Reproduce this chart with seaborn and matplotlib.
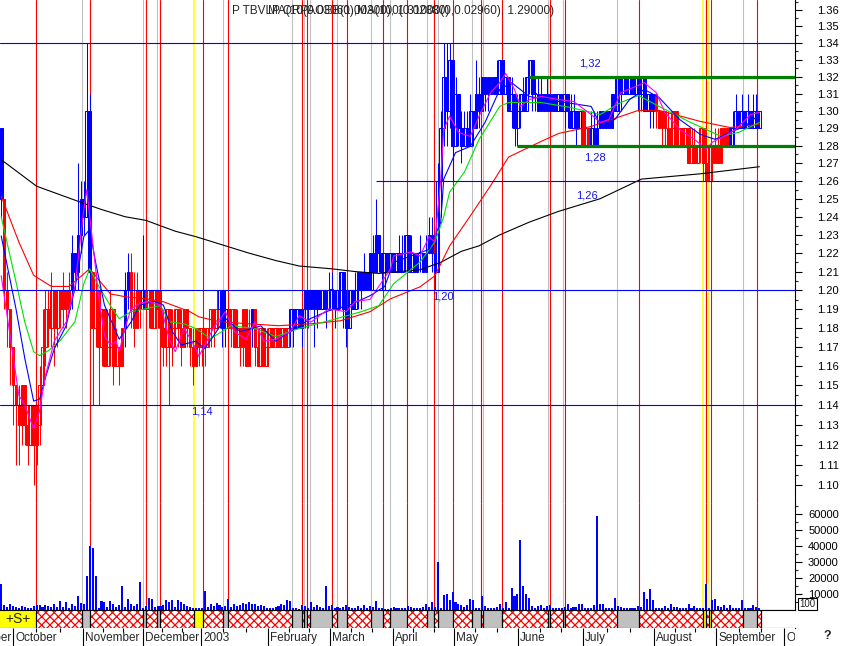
import numpy as np
import matplotlib
matplotlib.use('Agg')
import matplotlib.pyplot as plt
import seaborn as sns
from matplotlib.patches import Rectangle
from matplotlib.ticker import FixedLocator, FixedFormatter, NullFormatter

sns.set_theme(style='white')
plt.rcParams['font.family'] = ['Liberation Sans', 'DejaVu Sans']
plt.rcParams['hatch.linewidth'] = 0.9
plt.rcParams['hatch.color'] = 'red'

# --- daily bars, in cents, trading day 2 .. 259 (day 6 = 1 Oct 2002) ---
first_day = 2
close = [125, 120, 119, 117, 115, 114, 113, 115, 113, 112,
         114, 112, 113, 115, 117, 119, 118, 120, 118, 120,
         119, 120, 119, 120, 122, 121, 123, 125, 124, 130,
         121, 118, 120, 117, 119, 116, 117, 119, 116, 117,
         116, 118, 120, 121, 119, 118, 120, 119, 120, 119,
         120, 118, 120, 119, 118, 117, 119, 117, 118, 119,
         118, 117, 119, 118, 117, 116, 118, 117, 118, 117,
         118, 119, 118, 119, 120, 118, 119, 118, 119, 117,
         118, 117, 119, 116, 118, 119, 117, 116, 118, 116,
         117, 118, 117, 118, 117, 118, 117, 118, 119, 118,
         119, 118, 119, 120, 119, 120, 119, 120, 119, 120,
         119, 120, 120, 119, 120, 121, 119, 118, 120, 119,
         120, 121, 120, 121, 120, 122, 121, 123, 122, 121,
         122, 121, 122, 121, 122, 121, 122, 123, 121, 122,
         121, 122, 122, 121, 122, 123, 122, 121, 126, 129,
         132, 130, 133, 128, 131, 129, 128, 129, 128, 130,
         129, 131, 130, 132, 131, 132, 131, 132, 131, 133,
         131, 132, 130, 131, 129, 130, 131, 130, 132, 133,
         131, 131, 130, 131, 130, 131, 130, 131, 130, 131,
         130, 131, 130, 129, 130, 129, 130, 128, 129, 128,
         129, 128, 129, 130, 129, 130, 129, 131, 130, 132,
         131, 132, 131, 132, 131, 132, 131, 132, 130, 131,
         130, 131, 130, 129, 130, 129, 128, 129, 130, 128,
         129, 128, 129, 127, 128, 127, 128, 129, 127, 126,
         128, 127, 128, 127, 129, 128, 129, 128, 129, 130,
         129, 130, 129, 130, 129, 130, 129, 130]
high = [129, 125, 121, 119, 117, 115, 115, 115, 115, 114,
        114, 113, 114, 116, 119, 120, 120, 121, 120, 120,
        120, 121, 120, 121, 123, 122, 127, 126, 126, 134,
        131, 121, 121, 120, 119, 119, 119, 120, 119, 118,
        117, 118, 121, 122, 122, 121, 121, 120, 123, 120,
        120, 120, 120, 120, 120, 119, 119, 119, 119, 119,
        119, 119, 119, 119, 118, 118, 118, 118, 118, 118,
        118, 119, 119, 120, 120, 120, 120, 119, 119, 119,
        119, 118, 119, 119, 119, 119, 119, 118, 118, 118,
        118, 118, 118, 118, 118, 118, 118, 118, 119, 119,
        119, 119, 119, 120, 120, 120, 120, 120, 120, 120,
        120, 121, 121, 120, 120, 121, 121, 120, 120, 120,
        121, 121, 121, 122, 121, 122, 123, 125, 123, 122,
        122, 122, 122, 122, 122, 123, 123, 123, 123, 123,
        122, 122, 123, 122, 123, 124, 124, 123, 127, 130,
        134, 134, 134, 133, 132, 131, 130, 130, 130, 131,
        130, 133, 132, 132, 132, 132, 132, 132, 133, 133,
        133, 132, 132, 132, 131, 131, 131, 132, 132, 133,
        133, 132, 132, 132, 131, 132, 131, 131, 131, 131,
        131, 131, 131, 131, 131, 130, 130, 130, 130, 129,
        130, 130, 130, 130, 130, 130, 130, 131, 132, 132,
        132, 132, 132, 132, 132, 132, 132, 132, 132, 131,
        131, 131, 131, 130, 130, 130, 130, 130, 130, 130,
        129, 129, 129, 129, 129, 129, 128, 129, 129, 128,
        128, 128, 129, 129, 129, 129, 129, 129, 130, 131,
        130, 131, 130, 131, 130, 131, 131, 130]
low = [124, 119, 117, 115, 113, 111, 111, 112, 112, 111,
       112, 110, 111, 112, 115, 116, 117, 117, 116, 117,
       118, 118, 118, 119, 119, 120, 120, 122, 123, 124,
       120, 114, 117, 114, 116, 116, 116, 116, 115, 116,
       115, 116, 117, 119, 118, 117, 118, 118, 119, 118,
       118, 118, 118, 118, 117, 116, 116, 114, 116, 117,
       117, 116, 117, 117, 116, 115, 116, 116, 116, 116,
       117, 117, 117, 118, 118, 117, 117, 117, 117, 117,
       117, 116, 116, 116, 116, 117, 116, 116, 116, 116,
       116, 117, 117, 117, 117, 117, 117, 117, 117, 117,
       118, 118, 117, 118, 118, 119, 117, 118, 119, 119,
       118, 119, 119, 118, 119, 119, 118, 117, 118, 119,
       119, 119, 119, 120, 120, 120, 120, 121, 121, 120,
       120, 121, 121, 121, 121, 121, 121, 121, 121, 121,
       121, 121, 121, 121, 121, 122, 121, 120, 121, 124,
       128, 128, 129, 126, 128, 128, 127, 128, 128, 128,
       128, 129, 129, 130, 130, 130, 131, 131, 131, 131,
       131, 131, 130, 129, 128, 128, 129, 130, 130, 131,
       130, 130, 130, 130, 130, 130, 130, 130, 130, 130,
       130, 129, 129, 129, 129, 128, 129, 128, 128, 128,
       128, 128, 128, 129, 129, 129, 129, 129, 130, 130,
       130, 131, 131, 131, 131, 131, 130, 130, 130, 130,
       129, 129, 129, 129, 128, 128, 128, 128, 128, 128,
       128, 128, 128, 127, 127, 127, 127, 127, 126, 126,
       126, 126, 127, 127, 127, 128, 128, 128, 128, 129,
       129, 129, 129, 129, 129, 129, 129, 129]
# volume in thousands
volume = [16.5, 3, 2, 3.5, 2.5, 2, 1.5, 2.5, 2, 1,
          1.5, 2.5, 3, 3, 2, 3, 2.5, 2, 3.5, 2,
          5.5, 2, 5, 1.5, 3.5, 2.5, 8.5, 4.5, 4, 21,
          40, 39, 21, 1.5, 5.5, 5, 2, 5.5, 3.5, 2,
          3, 15, 2, 7, 3.5, 2.5, 3.5, 17.5, 1.5, 2.5,
          7.4, 6.8, 2, 2.5, 2.5, 3, 6, 5, 6.5, 2,
          6, 5, 3.5, 2.5, 2, 1, 1.5, 1.5, 1.5, 11.7,
          2, 3.5, 2.5, 4.5, 3, 2, 2.5, 7, 2, 3.5,
          2.5, 3, 4.5, 3.5, 5, 4, 3.5, 2.5, 3, 2.5,
          1, 1, 1.5, 2, 2.5, 4, 3, 6.5, 5.5, 1.5,
          1, 0.5, 3, 2.5, 1.5, 5, 2, 3, 2, 1.5,
          15, 2.5, 3, 1.5, 2, 1.5, 2, 3, 2, 1.5,
          1, 2.5, 1.5, 3, 1.5, 2.5, 2, 5.5, 1.5, 1,
          0.5, 0.5, 1, 2, 1, 1, 1, 1.5, 2.5, 2,
          1, 1.5, 1, 1.6, 3.5, 2, 4.7, 2, 30, 1,
          9.3, 10, 6, 11, 4.7, 3.7, 3, 2, 3, 7,
          6, 1, 1.5, 8.6, 2.5, 1, 1, 1.5, 2, 3.7,
          1.5, 5, 1.5, 14, 8.6, 10, 44, 15, 9.7, 7.2,
          2.5, 1.5, 2.5, 3, 1.5, 2.5, 3, 1.5, 1.5, 1.5,
          1.5, 2, 3.5, 1, 2, 2, 4, 3.5, 1, 1,
          1.5, 3, 59, 3.7, 4, 1, 1.5, 1, 7.2, 2.5,
          2, 1, 1.5, 1.5, 1, 1, 2.5, 2, 11, 6.6,
          13, 6, 1, 1, 1.5, 2.5, 1, 3.5, 2, 2,
          1, 1, 1, 3.5, 1.5, 2.5, 1, 1, 1, 16,
          1, 6, 7, 2.5, 2, 3, 1.5, 3, 1, 1.5,
          1, 6, 1.5, 1, 1, 3, 2, 1.5]
# trend colour changes (day, colour)
trend_day = [2, 3, 26, 33, 44, 46, 50, 51, 76, 79, 87, 88, 100, 199, 202, 224, 249]
trend_col = ['b', 'r', 'b', 'r', 'b', 'r', 'b', 'r', 'b', 'r', 'b', 'r', 'b', 'r', 'b', 'r', 'b']

# --- moving averages (day, price) ---
ma_black_x = [2, 14, 19, 29, 36, 44, 51, 56, 61, 68, 78, 86, 95, 103, 114, 122, 130, 144,
              151, 158, 164, 171, 181, 191, 205, 219, 239, 259]
ma_black_y = [1.272, 1.257, 1.254, 1.248, 1.244, 1.240, 1.238, 1.235, 1.232, 1.229, 1.224,
              1.220, 1.216, 1.213, 1.2115, 1.210, 1.209, 1.211, 1.215, 1.221, 1.224, 1.230,
              1.237, 1.243, 1.250, 1.261, 1.264, 1.268]
ma_red_x = [2, 8, 13, 19, 25, 32, 39, 44, 51, 57, 66, 69, 76, 86, 96, 107, 117, 127, 134,
            144, 149, 154, 161, 168, 174, 185, 191, 202, 218, 225, 239, 249, 259]
ma_red_y = [1.2515, 1.226, 1.208, 1.202, 1.202, 1.2115, 1.198, 1.1965, 1.1954, 1.1938,
            1.1885, 1.1858, 1.1832, 1.1821, 1.1811, 1.1821, 1.1837, 1.1885, 1.1954, 1.2018,
            1.2077, 1.2239, 1.2404, 1.2576, 1.2735, 1.2824, 1.287, 1.291, 1.3003, 1.3003,
            1.2939, 1.2904, 1.2922]
ma_green_x = [2, 7, 10, 13, 15, 18, 22, 27, 30, 32, 35, 39, 42, 46, 51, 56, 59, 64, 68, 73,
              80, 88, 95, 103, 113, 124, 130, 135, 144, 149, 152, 154, 159, 164, 171, 174,
              185, 195, 205, 212, 218, 225, 235, 246, 252, 259]
ma_green_y = [1.240, 1.2045, 1.183, 1.1675, 1.1654, 1.168, 1.1733, 1.1832, 1.2034, 1.2115,
              1.2023, 1.1917, 1.1848, 1.1885, 1.1901, 1.1917, 1.1832, 1.1821, 1.1796, 1.1743,
              1.1811, 1.1796, 1.1754, 1.1796, 1.1837, 1.1885, 1.1917, 1.2034, 1.2152, 1.2261,
              1.240, 1.2537, 1.2649, 1.2836, 1.3026, 1.3049, 1.3049, 1.302, 1.2979, 1.3049,
              1.309, 1.3026, 1.2939, 1.2853, 1.2876, 1.2933]
ma_blue_x = [2, 7, 10, 13, 15, 17, 20, 24, 27, 30, 32, 34, 37, 42, 46, 49, 54, 57, 60, 63,
             68, 71, 78, 83, 90, 95, 100, 107, 113, 120, 127, 132, 135, 141, 147, 151, 152,
             156, 161, 166, 171, 175, 181, 191, 202, 205, 210, 215, 220, 225, 232, 239, 244,
             249, 254, 259]
ma_blue_y = [1.2294, 1.1901, 1.164, 1.142, 1.143, 1.154, 1.169, 1.181, 1.201, 1.229,
             1.233, 1.215, 1.192, 1.174, 1.183, 1.192, 1.194, 1.192, 1.178, 1.171,
             1.173, 1.169, 1.185, 1.178, 1.181, 1.173, 1.178, 1.185, 1.189, 1.192,
             1.197, 1.202, 1.215, 1.2185, 1.222, 1.237, 1.261, 1.276, 1.2796, 1.2933,
             1.3125, 1.3165, 1.3084, 1.3055, 1.3026, 1.2922, 1.295, 1.3066, 1.3125, 1.3078,
             1.295, 1.2864, 1.2836, 1.2876, 1.291, 1.2979]
ma_mag_x = [2, 5, 8, 10, 13, 15, 17, 20, 24, 27, 30, 31, 33, 35, 37, 39, 41, 42, 44, 46,
            49, 52, 56, 59, 61, 64, 68, 69, 71, 74, 78, 81, 85, 88, 91, 95, 100, 103, 107,
            113, 119, 122, 127, 130, 134, 135, 141, 144, 147, 149, 151, 152, 154, 157, 161,
            164, 168, 171, 173, 176, 178, 181, 185, 191, 196, 202, 205, 208, 212, 217, 220,
            224, 227, 232, 237, 241, 243, 247, 251, 256, 259]
ma_mag_y = [1.2077, 1.176, 1.1449, 1.140, 1.128, 1.137, 1.155, 1.173, 1.183, 1.202,
            1.244, 1.255, 1.226, 1.197, 1.176, 1.171, 1.173, 1.1675, 1.180, 1.190,
            1.193, 1.194, 1.192, 1.174, 1.1675, 1.180, 1.169, 1.165, 1.171, 1.180,
            1.1885, 1.178, 1.174, 1.183, 1.173, 1.174, 1.178, 1.1864, 1.183, 1.190,
            1.1885, 1.194, 1.195, 1.202, 1.2115, 1.2185, 1.2206, 1.2185, 1.229, 1.226,
            1.261, 1.289, 1.297, 1.2876, 1.2853, 1.297, 1.311, 1.3165, 1.322, 1.3125,
            1.3026, 1.3066, 1.3084, 1.3066, 1.3055, 1.2979, 1.2933, 1.295, 1.3107, 1.3142,
            1.3165, 1.3107, 1.2991, 1.2893, 1.2836, 1.2779, 1.2819, 1.2853, 1.2893, 1.2979,
            1.2991]

# --- signal days (vertical lines) ---
red_days = [13.8, 32.1, 51.1, 55.8, 70.4, 78.9, 104.0, 105.7, 114.1, 119.2, 131.4, 139.6,
            148.7, 155.2, 164.6, 171.8, 188.0, 193.1, 218.2, 240.9, 242.6, 258.2]
gray_days = [29.4, 50.1, 54.8, 77.2, 100.6, 104.6, 106.7, 115.8, 127.4, 133.8, 146.3, 150.1,
             161.6, 165.3, 187.4, 192.4, 210.7, 253.5]
yellow_days = [67.4, 239.9, 241.9]

# --- support / resistance levels ---
blue_levels = [1.34, 1.20, 1.14]
level_126_start = 129
green_levels = [1.32, 1.28]
green_start = [181, 177]
level_labels = ['1,32', '1,28', '1,26', '1,20', '1,14']
level_label_x = [201.6, 203.3, 200.6, 151.8, 70.1]
level_label_y = [1.328, 1.2733, 1.252, 1.1965, 1.1368]

price_ticks = [round(1.10 + 0.01 * k, 2) for k in range(27)]
vol_ticks = [10, 20, 30, 40, 50, 60]
month_names = ['September', 'October', 'November', 'December', '2003', 'February', 'March',
               'April', 'May', 'June', 'July', 'August', 'September', 'Oc']
month_pos = [-14.6, 6.0, 29.7, 50.1, 69.7, 92.4, 113.5, 134.8, 155.5, 177.2, 199.2, 223.3,
             244.3, 267.4]

# --- prepare bars ---
n = min(len(close), len(high), len(low), len(volume))
days = np.arange(first_day, first_day + n)
c = np.array(close[:n]) / 100
h = np.array(high[:n]) / 100
l = np.array(low[:n]) / 100
o = np.r_[h[0], c[:-1]]
hi = np.maximum.reduce([h, o, c])
lo = np.minimum.reduce([l, o, c])
trend = np.empty(n, dtype=object)
for d, col in zip(trend_day, trend_col):
    trend[days >= d] = col
cmap = {'b': '#0000ff', 'r': '#ff0000'}
bar_colors = np.array([cmap[t] for t in trend])

W, H = 842, 646
fig = plt.figure(figsize=(W / 100, H / 100), dpi=100)
fig.patch.set_facecolor('white')


def axes_px(x0, y0, x1, y1):
    return fig.add_axes([x0 / W, 1 - y1 / H, (x1 - x0) / W, (y1 - y0) / H])


XLIM = (1.593, 271.08)
ax = axes_px(0, 0, 795, 503)
axv = axes_px(0, 503, 795, 610)
axb = axes_px(0, 610, 795, 628)
axm = axes_px(0, 628, 795, 646)
for a in (ax, axv, axb, axm):
    a.set_facecolor('white')
    for s in a.spines.values():
        s.set_visible(False)
        s.set_color('black')
        s.set_linewidth(0.8)

# vertical signal lines
for a in (ax, axv):
    for d in gray_days:
        a.axvline(d, color='#c0c0c0', lw=0.8, zorder=1)
    for d in red_days:
        a.axvline(d, color='#ff0000', lw=0.8, zorder=1)
    for d in yellow_days:
        a.axvline(d, color='#ffff00', lw=1.1, zorder=1)

# --- price panel ---
ax.set_yscale('log')
ax.vlines(days, lo, hi, colors=bar_colors, lw=0.75, zorder=2)
down = c < o
up = ~down
ax.bar(days[down], (o - c)[down], bottom=c[down], width=0.9, color=bar_colors[down],
       edgecolor=bar_colors[down], linewidth=0.75, zorder=2)
ax.bar(days[up], np.maximum(c - o, 0.0004)[up], bottom=o[up], width=0.9, facecolor='none',
       edgecolor=bar_colors[up], linewidth=0.75, zorder=2)

sns.lineplot(x=ma_black_x, y=ma_black_y, ax=ax, color='black', lw=0.8, legend=False, zorder=3)
sns.lineplot(x=ma_red_x, y=ma_red_y, ax=ax, color='#ff0000', lw=0.8, legend=False, zorder=3)
sns.lineplot(x=ma_green_x, y=ma_green_y, ax=ax, color='#00e000', lw=0.8, legend=False, zorder=3)
sns.lineplot(x=ma_blue_x, y=ma_blue_y, ax=ax, color='#0000ff', lw=0.8, legend=False, zorder=3)
sns.lineplot(x=ma_mag_x, y=ma_mag_y, ax=ax, color='#ff00ff', lw=0.8, legend=False, zorder=3)

for lv in blue_levels:
    ax.axhline(lv, color='#0000ff', lw=0.8, zorder=4)
ax.hlines(1.26, level_126_start, XLIM[1], color='#0000ff', lw=0.8, zorder=4)
for lv, st in zip(green_levels, green_start):
    ax.hlines(lv, st, XLIM[1], color='#008000', lw=2.3, zorder=4)
for txt, tx, ty in zip(level_labels, level_label_x, level_label_y):
    ax.text(tx, ty, txt, color='#1515e0', fontsize=8, ha='center', va='center', zorder=5)

ax.set_ylim(1.0912, 1.366)
ax.spines['right'].set_visible(True)
ax.yaxis.tick_right()
ax.yaxis.set_major_locator(FixedLocator(price_ticks))
ax.yaxis.set_major_formatter(FixedFormatter([f'{t:.2f}' for t in price_ticks]))
ax.yaxis.set_minor_locator(FixedLocator([t + 0.005 for t in price_ticks]))
ax.yaxis.set_minor_formatter(NullFormatter())
ax.tick_params(axis='y', which='major', direction='out', length=5, width=0.8, pad=26.5,
               labelsize=8, colors='black', right=True, left=False)
ax.tick_params(axis='y', which='minor', direction='out', length=2.5, width=0.8,
               right=True, left=False)
ax.tick_params(axis='x', bottom=False, labelbottom=False)
for lab in ax.get_yticklabels():
    lab.set_horizontalalignment('right')
ax.set_xlabel('')
ax.set_ylabel('')

# --- volume panel ---
axv.bar(days, volume[:n], width=0.7, color='#0000ff', linewidth=0, zorder=2)
axv.set_ylim(0, 66.9)
axv.spines['right'].set_visible(True)
axv.spines['bottom'].set_visible(True)
axv.yaxis.tick_right()
axv.yaxis.set_major_locator(FixedLocator(vol_ticks))
axv.yaxis.set_major_formatter(FixedFormatter([f'{int(t * 1000)}' for t in vol_ticks]))
axv.yaxis.set_minor_locator(FixedLocator([t - 5 for t in vol_ticks] + [65]))
axv.tick_params(axis='y', which='major', direction='out', length=5, width=0.8, pad=26.5,
                labelsize=8, colors='black', right=True, left=False)
axv.tick_params(axis='y', which='minor', direction='out', length=2.5, width=0.8,
                right=True, left=False)
axv.tick_params(axis='x', bottom=False, labelbottom=False)
for lab in axv.get_yticklabels():
    lab.set_horizontalalignment('right')

# --- signal band ---
events = [(XLIM[0], 'S')] + [(d, 'R') for d in red_days] + [(d, 'G') for d in gray_days] \
    + [(d, 'Y') for d in yellow_days]
events.sort()
band_end = days[-1] + 0.5
edges = [e[0] for e in events] + [band_end]
for (x0, kind), x1 in zip(events, edges[1:]):
    if kind == 'R':
        axb.add_patch(Rectangle((x0, 0), x1 - x0, 1, facecolor='white', edgecolor='red',
                                hatch='xxxx', lw=0))
    elif kind == 'G':
        axb.add_patch(Rectangle((x0, 0), x1 - x0, 1, facecolor='#c0c0c0', lw=0))
    else:
        axb.add_patch(Rectangle((x0, 0), x1 - x0, 1, facecolor='#ffff00', lw=0))
    if kind == 'S':
        axb.text((x0 + x1) / 2, 0.5, '+S+', fontsize=10, ha='center', va='center')
axb.vlines(edges[1:], 0, 1, colors='black', lw=0.9)
axb.set_ylim(0, 1)
axb.spines['top'].set_visible(True)
axb.spines['bottom'].set_visible(True)
axb.set_xticks([])
axb.set_yticks([])

# --- month axis ---
axm.set_ylim(0, 1)
minor_pos = []
for a0, a1 in zip(month_pos[:-1], month_pos[1:]):
    minor_pos += [a0 + (a1 - a0) / 3, a0 + 2 * (a1 - a0) / 3]
axm.set_xticks(month_pos)
axm.set_xticks(minor_pos, minor=True)
axm.set_yticks([])
axm.tick_params(axis='x', which='major', direction='in', top=True, bottom=False,
                length=13, width=0.8, color='black', labelbottom=False, labeltop=False)
axm.tick_params(axis='x', which='minor', direction='in', top=True, bottom=False,
                length=3, width=0.8, color='black')
for pos, name in zip(month_pos, month_names):
    axm.text(pos + 0.7, 0.42, name, fontsize=8.5, ha='left', va='center', clip_on=True)

# set_xticks can widen the view, so fix the shared day range last
for a in (ax, axv, axb, axm):
    a.set_xlim(*XLIM)

# --- header and odd bits ---
fig.text(232 / W, 1 - 11 / H, 'P TBVLP ORPAOEB(1.00300), 1.31000(0,0.02960), 1.29000)',
         fontsize=8.5, va='center')
fig.text(268 / W, 1 - 11 / H, 'MA(10(0.03060),MA(100(0.02880)', fontsize=8.5, va='center')
fig.text(799 / W, 1 - 604 / H, '100', fontsize=7, va='center', ha='left',
         bbox=dict(boxstyle='square,pad=0.15', fc='white', ec='black', lw=0.8))
fig.text(827 / W, 1 - 636 / H, '?', fontsize=9, fontweight='bold', ha='center', va='center')

fig.savefig('out.png', dpi=100, facecolor='white')
